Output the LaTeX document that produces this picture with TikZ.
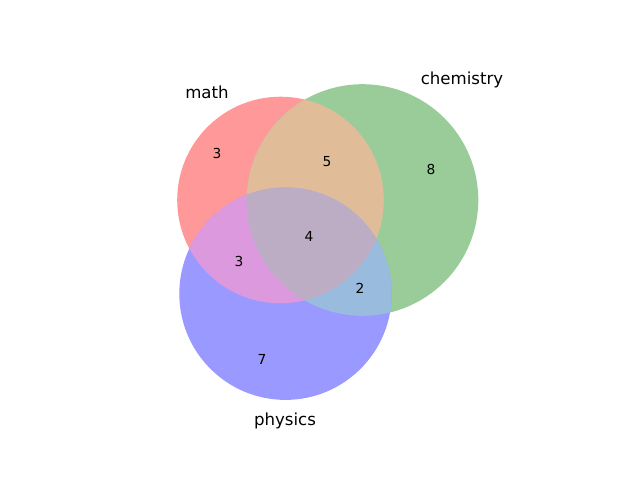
\documentclass[tikz,border=0pt]{standalone}
\usepackage{fontspec}
\setmainfont{DejaVu Sans}
\definecolor{mathred}{RGB}{255,153,153}
\definecolor{chemgreen}{RGB}{153,204,153}
\definecolor{physblue}{RGB}{153,153,255}
\definecolor{mathchem}{RGB}{224,188,153}
\definecolor{mathphys}{RGB}{221,153,221}
\definecolor{chemphys}{RGB}{153,188,222}
\definecolor{allthree}{RGB}{188,173,196}
\def\mathset{(280.5,200) circle (103.3)}
\def\chemset{(362.5,200) circle (115.8)}
\def\physset{(285.5,293.7) circle (106.2)}
\begin{document}
\begin{tikzpicture}[x=0.025cm,y=-0.025cm,
  setlabel/.style={font=\fontsize{11.8}{14}\selectfont},
  count/.style={font=\fontsize{9.8}{12}\selectfont}]
\useasboundingbox (0,0) rectangle (640,480);
% single sets
\fill[mathred] \mathset;
\fill[chemgreen] \chemset;
\fill[physblue] \physset;
% pairwise overlaps
\begin{scope}
  \clip \mathset;
  \fill[mathchem] \chemset;
  \fill[mathphys] \physset;
\end{scope}
\begin{scope}
  \clip \chemset;
  \fill[chemphys] \physset;
\end{scope}
\begin{scope}
  \clip \mathset;
  \clip \chemset;
  \fill[allthree] \physset;
\end{scope}
% set names
\node[setlabel] (lblmath) at (207,92) {math};
\node[setlabel] (lblchem) at (462,80) {chemistry};
\node[setlabel] (lblphys) at (285,421) {physics};
% region counts
\node[count] (nmath) at (217,153) {3};
\node[count] (nmathchem) at (327,162) {5};
\node[count] (nchem) at (431,169) {8};
\node[count] (nall) at (309,236) {4};
\node[count] (nmathphys) at (239,261) {3};
\node[count] (nchemphys) at (360,288) {2};
\node[count] (nphys) at (262,359) {7};
\end{tikzpicture}
\end{document}
